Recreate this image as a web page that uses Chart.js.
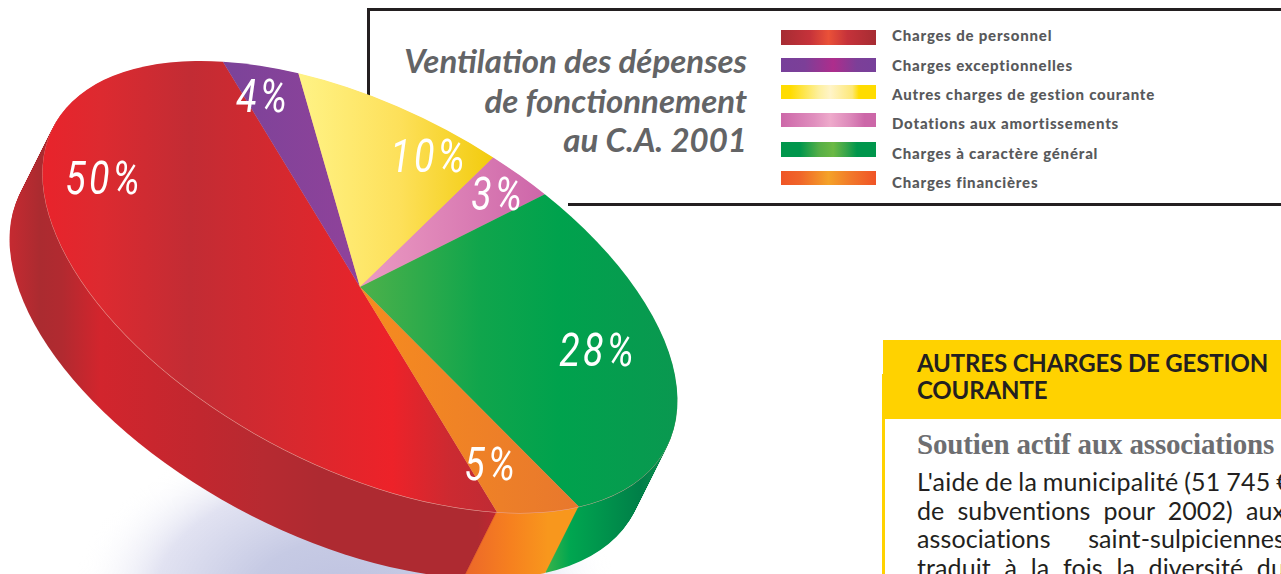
<!DOCTYPE html>
<html lang="fr">
<head>
<meta charset="utf-8">
<style>
html,body{margin:0;padding:0;background:#fff;width:1281px;height:574px;overflow:hidden}
body{position:relative}
.abs{position:absolute;white-space:nowrap}
#chart{position:absolute;left:0;top:0;z-index:5}
.rule{position:absolute;background:#231f20}
.title{font:italic 700 33px "Lato",sans-serif;color:#636466;right:534px;text-align:right;line-height:40px}
.leg{left:892px;font:900 15px "Lato",sans-serif;color:#58595b;letter-spacing:.8px;line-height:18px}
.sw{position:absolute;left:781px;width:95px}
.hdr{font:700 24px "Lato",sans-serif;color:#231f20;left:917px;letter-spacing:-.15px;line-height:27px}
.sub{font:700 29px "Liberation Serif",serif;color:#6d6e71;left:917px;letter-spacing:-.15px}
.line{font:400 25px "Lato",sans-serif;color:#231f20;left:917px;width:368px;text-align:justify;text-align-last:justify;white-space:normal;line-height:29px;letter-spacing:.1px}
.line.free{text-align-last:left;white-space:nowrap;word-spacing:-1px;width:auto;letter-spacing:.25px}
</style>
</head>
<body>
<div class="rule" style="left:368px;top:8px;width:913px;height:3px"></div>
<div class="rule" style="left:367px;top:8px;width:3px;height:90px"></div>
<div class="rule" style="left:568px;top:203px;width:713px;height:3px"></div>
<div id="titleBox"></div>
<div id="legendBox"></div>
<div style="position:absolute;left:883px;top:340px;width:398px;height:79px;background:#ffd200"></div>
<div style="position:absolute;left:882px;top:374px;width:3px;height:200px;background:#ffd200"></div>
<div id="articleBox"></div>
<canvas id="chart" width="1281" height="574"></canvas>
<script src="https://cdn.jsdelivr.net/npm/chart.js@4/dist/chart.umd.min.js"></script>
<script>
const categories = ["Charges de personnel","Charges exceptionnelles","Autres charges de gestion courante","Dotations aux amortissements","Charges à caractère général","Charges financières"];
const values = [50,4,10,3,28,5];
const baseColors = ["#d6282e","#84439a","#fbdc4e","#d873ad","#03a24d","#ee7f28"];
const swatchGradients = [
 "linear-gradient(90deg,#a62c33,#c5323a 30%,#ea5138 50%,#c5323a 70%,#a62c33)",
 "linear-gradient(90deg,#77409a,#7c3f98 25%,#ae2d8c 55%,#7c3f98 80%,#77409a)",
 "linear-gradient(90deg,#ffdc00 10%,#fdf0a0 40%,#fff4c8 52%,#fde878 75%,#ffdc00 82%)",
 "linear-gradient(90deg,#cc67a8,#e08fbe 35%,#eeaacb 52%,#dd8abb 72%,#cc67a8 88%)",
 "linear-gradient(90deg,#00964c 20%,#55ae47 40%,#6cb944 55%,#3aa64a 68%,#00964c 80%)",
 "linear-gradient(90deg,#ef5526,#f0652a 20%,#f4a228 50%,#f1762a 75%,#f05326)"
];
const titleLines = ["Ventilation des dépenses","de fonctionnement","au C.A. 2001"];
const articleHeading = ["AUTRES CHARGES DE GESTION","COURANTE"];
const articleSub = "Soutien actif aux associations";
const articleLines = ["L'aide de la municipalité (51 745 €","de subventions pour 2002) aux","associations saint-sulpiciennes","traduit à la fois la diversité du"];

// screen-space shading of each slice: [screen x, colour]
const topShades = [
 [[41,"#e9232b"],[100,"#dd2a30"],[190,"#c22c34"],[300,"#d9282e"],[392,"#ed2229"],[450,"#cc2a31"],[495,"#c02b34"]],
 [[222,"#7b4399"],[360,"#90429a"]],
 [[298,"#fff386"],[400,"#fde05a"],[494,"#f2cb0c"]],
 [[370,"#ea98c1"],[545,"#cd66a9"]],
 [[360,"#4db14a"],[480,"#10a54c"],[560,"#00a24d"],[677,"#0a9850"]],
 [[380,"#f58a20"],[577,"#e8782d"]]
];
const sideShades = [
 [[9,"#c62a31"],[40,"#ab2b30"],[62,"#b12a30"],[100,"#d2252d"],[200,"#c1272f"],[262,"#b72a31"],[320,"#ae2a31"],[478,"#ae2a31"],[495,"#be2731"]],
 [[0,"#6a3a85"],[400,"#6a3a85"]],
 [[0,"#d9b73a"],[600,"#d9b73a"]],
 [[0,"#b65a95"],[600,"#b65a95"]],
 [[545,"#3cb44a"],[570,"#00a650"],[640,"#007f48"],[662,"#0d8c4e"]],
 [[465,"#ec672a"],[510,"#f6801f"],[548,"#f8971d"]]
];
const labelAnchors = [[104,182],[263,100],[429,160],[498,198],[598,354],[491,468]];

// ---- page text
const el=(cls,txt,css)=>{const d=document.createElement('div');d.className='abs '+cls;d.textContent=txt;d.style.cssText=css;return d;};
titleLines.forEach((t,i)=>document.getElementById('titleBox').appendChild(el('title',t,`top:${40+i*39.5}px`)));
const rowTops=[26,56,85,114,144,173], swTops=[[30,15],[58,14],[85,14],[113,14],[142,15],[171,14]];
categories.forEach((c,i)=>{
  const L=document.getElementById('legendBox');
  L.appendChild(el('leg',c,`top:${rowTops[i]}px`));
  const s=document.createElement('div');s.className='sw';
  s.style.cssText=`top:${swTops[i][0]}px;height:${swTops[i][1]}px;background:${swatchGradients[i]}`;
  L.appendChild(s);
});
const A=document.getElementById('articleBox');
articleHeading.forEach((t,i)=>A.appendChild(el('hdr',t,`top:${349+i*27}px`)));
A.appendChild(el('sub',articleSub,`top:428px`));
articleLines.forEach((t,i)=>A.appendChild(el(i===0?'line free':'line',t,`top:${467+i*28.7}px`)));

// ---- projection of the pie's disc
const DISC={cx:360,cy:287,a:346,b:179.2,tilt:27.7*Math.PI/180,dx:-33,dy:66};
function discMatrix(arc,ox,oy){
  const k1=DISC.a/arc.outerRadius,k2=DISC.b/arc.outerRadius,c=Math.cos(DISC.tilt),s=Math.sin(DISC.tilt);
  const m11=c*k1,m12=-s*k2,m21=s*k1,m22=c*k2;
  const e=DISC.cx+ox-(m11*arc.x+m12*arc.y), f=DISC.cy+oy-(m21*arc.x+m22*arc.y);
  return {m11,m12,m21,m22,e,f};
}
function shade(ctx,M,stops){
  const x0=stops[0][0],x1=stops[stops.length-1][0],n=M.m11*M.m11+M.m12*M.m12;
  const g=ctx.createLinearGradient(M.m11*(x0-M.e)/n,M.m12*(x0-M.e)/n,M.m11*(x1-M.e)/n,M.m12*(x1-M.e)/n);
  stops.forEach(([x,col])=>g.addColorStop((x-x0)/(x1-x0),col));
  return g;
}
function paint(ctx,arc,M,fill){
  const c=Object.create(arc);
  c.options=Object.assign({},arc.options,{backgroundColor:fill,borderWidth:0});
  ctx.setTransform(M.m11,M.m21,M.m12,M.m22,M.e,M.f);
  c.draw(ctx);
}
const disc3d={
  id:'disc3d',
  beforeDatasetsDraw(chart){
    const ctx=chart.ctx, arcs=chart.getDatasetMeta(0).data;
    ctx.save();
    // soft shadow on the ground
    ctx.setTransform(272,0,0,172,345,600);
    const g=ctx.createRadialGradient(0,0,0,0,0,1);
    g.addColorStop(0,'rgba(190,194,224,1)');g.addColorStop(.35,'rgba(198,202,228,1)');
    g.addColorStop(.7,'rgba(222,223,240,.9)');g.addColorStop(1,'rgba(255,255,255,0)');
    ctx.fillStyle=g;ctx.beginPath();ctx.arc(0,0,1,0,Math.PI*2);ctx.fill();
    // side wall
    const steps=Math.round(DISC.dy);
    for(let l=steps;l>=1;l--){
      const ox=DISC.dx*l/steps,oy=DISC.dy*l/steps;
      arcs.forEach((arc,i)=>{const M=discMatrix(arc,ox,oy);paint(ctx,arc,M,shade(ctx,M,sideShades[i]));});
    }
    // hairline at the rim
    arcs.forEach(arc=>{const M=discMatrix(arc,-.2,.5);paint(ctx,arc,M,'#e8a9a0');});
    // top face
    arcs.forEach((arc,i)=>{const M=discMatrix(arc,0,0);paint(ctx,arc,M,shade(ctx,M,topShades[i]));});
    ctx.restore();
    // percentage labels
    ctx.save();
    ctx.fillStyle='#fff';ctx.textBaseline='middle';ctx.textAlign='center';
    ctx.font='italic 400 47px "Roboto",sans-serif';
    ctx.letterSpacing='4px';
    values.forEach((v,i)=>{
      ctx.save();ctx.translate(labelAnchors[i][0],labelAnchors[i][1]);ctx.scale(.8,1);
      ctx.fillText(v+'%',0,0);ctx.restore();
    });
    ctx.restore();
    return false;
  }
};
new Chart(document.getElementById('chart'),{
  type:'pie',
  data:{labels:categories,datasets:[{data:values,backgroundColor:baseColors,borderWidth:0}]},
  options:{responsive:false,animation:false,rotation:139.2,layout:{padding:0},
    plugins:{legend:{display:false},tooltip:{enabled:false},title:{display:false}}},
  plugins:[disc3d]
});
</script>
</body>
</html>
